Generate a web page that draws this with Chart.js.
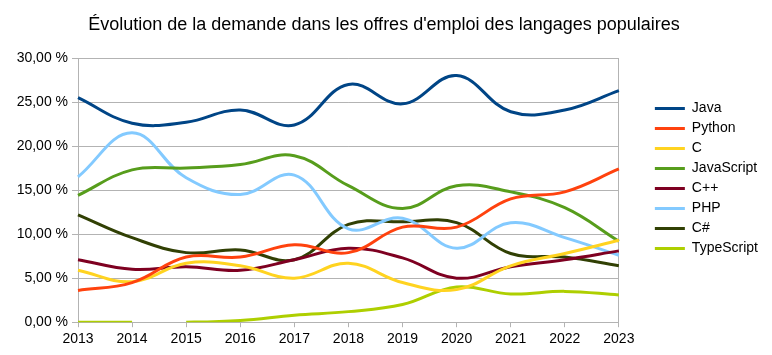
<!DOCTYPE html>
<html>
<head>
<meta charset="utf-8">
<script src="https://cdn.jsdelivr.net/npm/chart.js@4/dist/chart.umd.min.js"></script>
<style>
html,body{margin:0;padding:0;background:#fff;}
#wrap{width:772px;height:355px;}
</style>
</head>
<body>
<div id="wrap"><canvas id="c" width="772" height="355"></canvas></div>
<script>
const chartTitle = "Évolution de la demande dans les offres d'emploi des langages populaires";
const years = ['2013','2014','2015','2016','2017','2018','2019','2020','2021','2022','2023'];
const java       = [25.5, 22.6, 22.7, 24.1, 22.4, 27.0, 24.8, 28.0, 23.9, 24.1, 26.3];
const python     = [3.6, 4.5, 7.4, 7.4, 8.8, 7.9, 10.8, 10.8, 14.0, 14.8, 17.4];
const cLang      = [5.9, 4.6, 6.7, 6.4, 5.0, 6.7, 4.5, 3.7, 6.4, 7.8, 9.3];
const javascript = [14.4, 17.3, 17.5, 17.9, 18.9, 15.5, 12.9, 15.5, 14.8, 13.0, 9.2];
const cpp        = [7.1, 6.0, 6.3, 5.9, 7.1, 8.4, 7.3, 5.0, 6.3, 7.1, 8.1];
const php        = [16.5, 21.5, 16.4, 14.5, 16.7, 10.6, 11.8, 8.4, 11.3, 9.6, 7.6];
const csharp     = [12.2, 9.6, 7.9, 8.2, 7.1, 11.1, 11.4, 11.3, 7.8, 7.4, 6.4];
const typescript = [0, 0, 0, 0.2, 0.8, 1.2, 2.0, 4.0, 3.2, 3.5, 3.1];
const seriesNames = ['Java','Python','C','JavaScript','C++','PHP','C#','TypeScript'];
const seriesColors = ['#004586','#ff420e','#ffd320','#579d1c','#7e0021','#83caff','#314004','#aecf00'];
const seriesData = [java, python, cLang, javascript, cpp, php, csharp, typescript];
const yMin = 0, yMax = 30, yStep = 5;

const FONT = "'Liberation Sans', Arial, sans-serif";
const grey = '#b3b3b3';

const datasets = seriesNames.map((name, i) => {
  const ds = {
    label: name,
    data: seriesData[i],
    borderColor: seriesColors[i],
    backgroundColor: seriesColors[i],
    borderWidth: 3,
    pointRadius: 0,
    pointHoverRadius: 0,
    tension: 0.4,
    fill: false
  };
  if (name === 'TypeScript') {
    ds.segment = { borderColor: ctx => ctx.p0DataIndex === 1 ? 'rgba(0,0,0,0)' : undefined };
  }
  return ds;
});

new Chart(document.getElementById('c'), {
  type: 'line',
  data: { labels: years, datasets },
  options: {
    responsive: false,
    animation: false,
    events: [],
    layout: { padding: { left: 0, right: 4, top: 0, bottom: 3 } },
    plugins: {
      title: {
        display: true,
        text: chartTitle,
        color: '#000',
        font: { family: FONT, size: 18, weight: 'normal' },
        padding: { top: 14, bottom: 22.4 }
      },
      legend: {
        display: true,
        position: 'right',
        align: 'center',
        title: { display: true, text: '', padding: { top: 2, bottom: 2 }, font: { size: 1, lineHeight: 1 } },
        labels: {
          usePointStyle: true,
          pointStyle: 'line',
          pointStyleWidth: 30,
          padding: 6,
          color: '#000',
          font: { family: FONT, size: 14 }
        }
      },
      tooltip: { enabled: false }
    },
    scales: {
      x: {
        type: 'category',
        offset: false,
        grid: { display: true, drawOnChartArea: false, drawTicks: true, tickLength: 5, color: grey },
        border: { display: true, color: grey, width: 1 },
        ticks: { color: '#000', font: { family: FONT, size: 14 }, padding: 4, maxRotation: 0, autoSkip: false }
      },
      y: {
        position: 'left',
        min: yMin, max: yMax,
        afterFit: s => { s.width = 78; },
        grid: { color: grey, tickLength: 6, drawTicks: true },
        border: { display: true, color: grey, width: 1 },
        ticks: {
          stepSize: yStep,
          color: '#000',
          padding: 4,
          font: { family: FONT, size: 14 },
          callback: v => v.toFixed(2).replace('.', ',') + ' %'
        }
      },
      y2: {
        position: 'right',
        min: yMin, max: yMax,
        afterFit: s => { s.width = 30; },
        grid: { display: true, drawOnChartArea: false, drawTicks: false, color: grey },
        border: { display: true, color: grey, width: 1 },
        ticks: { display: false }
      }
    }
  }
});
</script>
</body>
</html>
